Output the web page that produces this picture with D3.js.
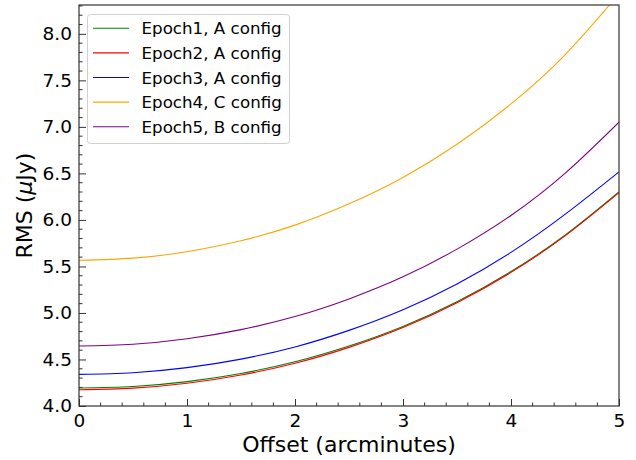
<!DOCTYPE html>
<html>
<head>
<meta charset="utf-8">
<script src="https://cdn.jsdelivr.net/npm/d3@7"></script>
<style>
    body { margin: 0; background: #fff; }
    svg { display: block; font-family: "DejaVu Sans", sans-serif; }
</style>
</head>
<body>
<div id="chart"></div>
<script>
var offsets = [0, 0.5, 1, 1.5, 2, 2.5, 3, 3.5, 4, 4.5, 5];

var epoch1 = [4.194, 4.210, 4.262, 4.350, 4.475, 4.644, 4.855, 5.120, 5.445, 5.835, 6.300];
var epoch2 = [4.175, 4.192, 4.244, 4.333, 4.459, 4.630, 4.843, 5.110, 5.436, 5.829, 6.294];
var epoch3 = [4.340, 4.358, 4.412, 4.504, 4.635, 4.813, 5.034, 5.312, 5.651, 6.059, 6.516];
var epoch4 = [5.566, 5.589, 5.658, 5.776, 5.944, 6.173, 6.457, 6.813, 7.247, 7.775, 8.430];
var epoch5 = [4.645, 4.664, 4.722, 4.821, 4.961, 5.151, 5.388, 5.686, 6.048, 6.500, 7.050];

var seriesNames = ["Epoch1, A config", "Epoch2, A config", "Epoch3, A config", "Epoch4, C config", "Epoch5, B config"];
var seriesColors = ["#008000", "#ff0000", "#0000ff", "#ffa500", "#800080"];
var seriesValues = [epoch1, epoch2, epoch3, epoch4, epoch5];

var xTicks = [0, 1, 2, 3, 4, 5];
var yTicks = [4.0, 4.5, 5.0, 5.5, 6.0, 6.5, 7.0, 7.5, 8.0];

(function () {
    var width = 636;
    var height = 460;
    var plotL = 79, plotR = 619, plotT = 5, plotB = 406;

    var x = d3.scaleLinear().domain([0, 5]).range([plotL, plotR]);
    var y = d3.scaleLinear().domain([4.0, 8.31]).range([plotB, plotT]);

    var svg = d3.select("#chart")
        .append("svg")
        .attr("width", width)
        .attr("height", height);

    svg.append("clipPath")
        .attr("id", "plot-clip")
        .append("rect")
        .attr("x", plotL)
        .attr("y", plotT)
        .attr("width", plotR - plotL)
        .attr("height", plotB - plotT);

    // minor ticks, inward
    var xMinor = d3.range(0, 5.001, 0.2).filter(function (v) { return Math.abs(v - Math.round(v)) > 1e-6; });
    var yMinor = d3.range(4.0, 8.31, 0.1).filter(function (v) { return Math.abs(v * 2 - Math.round(v * 2)) > 1e-6; });

    var xAxis = d3.axisBottom(x).tickValues(xTicks).tickFormat(d3.format("d")).tickSizeInner(-7).tickSizeOuter(0).tickPadding(8);
    var yAxis = d3.axisLeft(y).tickValues(yTicks).tickFormat(d3.format(".1f")).tickSizeInner(-7).tickSizeOuter(0).tickPadding(7);

    var gx = svg.append("g").attr("transform", "translate(0," + plotB + ")").call(xAxis);
    var gy = svg.append("g").attr("transform", "translate(" + plotL + ",0)").call(yAxis);

    gx.append("g").selectAll("line").data(xMinor).enter().append("line")
        .attr("x1", function (d) { return x(d); })
        .attr("x2", function (d) { return x(d); })
        .attr("y1", 0).attr("y2", -3.5);
    gy.append("g").selectAll("line").data(yMinor).enter().append("line")
        .attr("y1", function (d) { return y(d); })
        .attr("y2", function (d) { return y(d); })
        .attr("x1", 0).attr("x2", 3.5);

    [gx, gy].forEach(function (g) {
        g.select(".domain").remove();
        g.selectAll("line").attr("stroke", "#333").attr("stroke-width", 1);
        g.selectAll("text").attr("font-size", 18.5).attr("fill", "#000").attr("font-family", "DejaVu Sans");
    });

    // lines
    var line = d3.line()
        .x(function (d, i) { return x(offsets[i]); })
        .y(function (d) { return y(d); })
        .curve(d3.curveNatural);

    svg.append("g")
        .attr("clip-path", "url(#plot-clip)")
        .selectAll("path")
        .data(seriesValues)
        .enter()
        .append("path")
        .attr("d", line)
        .attr("fill", "none")
        .attr("stroke", function (d, i) { return seriesColors[i]; })
        .attr("stroke-width", 1.1);

    // frame
    svg.append("rect")
        .attr("x", plotL).attr("y", plotT)
        .attr("width", plotR - plotL).attr("height", plotB - plotT)
        .attr("fill", "none")
        .attr("stroke", "#333")
        .attr("stroke-width", 1.2);

    // axis labels
    svg.append("text")
        .attr("x", (plotL + plotR) / 2)
        .attr("y", 452)
        .attr("text-anchor", "middle")
        .attr("font-size", 22)
        .text("Offset (arcminutes)");

    var yLabel = svg.append("text")
        .attr("transform", "translate(32," + (plotT + plotB) / 2 + ") rotate(-90)")
        .attr("text-anchor", "middle")
        .attr("font-size", 22);
    yLabel.append("tspan").text("RMS (");
    yLabel.append("tspan").attr("font-style", "italic").text("\u03bc");
    yLabel.append("tspan").text("Jy)");

    // legend
    var legend = svg.append("g");
    legend.append("rect")
        .attr("x", 87.5).attr("y", 14.5)
        .attr("width", 202).attr("height", 129)
        .attr("rx", 3)
        .attr("fill", "#fff").attr("fill-opacity", 0.8)
        .attr("stroke", "#d0d0d0");

    var rows = legend.selectAll("g.row")
        .data(seriesNames)
        .enter()
        .append("g")
        .attr("class", "row")
        .attr("transform", function (d, i) { return "translate(0," + (28.3 + i * 24.6) + ")"; });

    rows.append("line")
        .attr("x1", 93).attr("x2", 129)
        .attr("y1", 0).attr("y2", 0)
        .attr("stroke", function (d, i) { return seriesColors[i]; })
        .attr("stroke-width", 1.1);

    rows.append("text")
        .attr("x", 141.5)
        .attr("y", 0)
        .attr("dy", "0.36em")
        .attr("font-size", 16.7)
        .attr("fill", "#000")
        .text(function (d) { return d; });
}());
</script>
</body>
</html>
